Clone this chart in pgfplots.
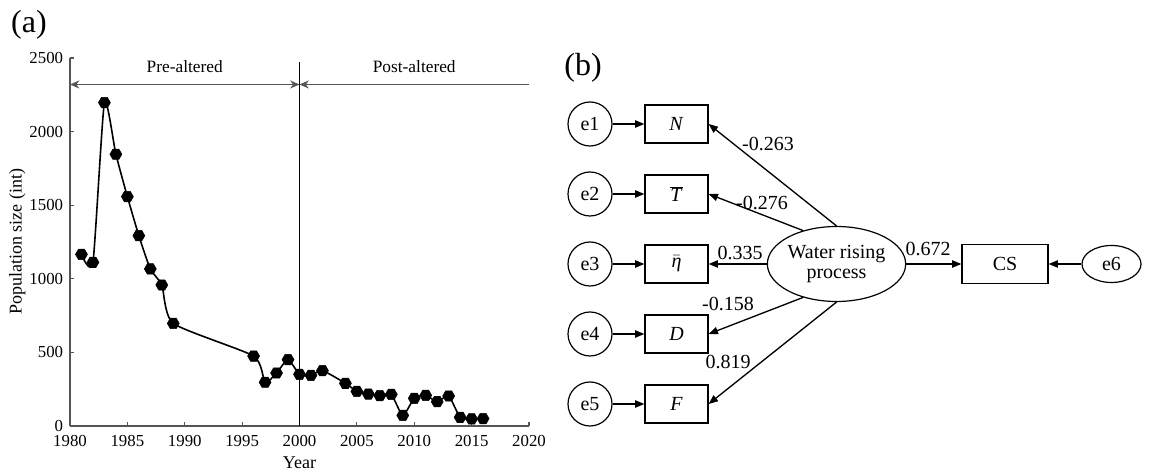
\documentclass[border=0pt]{standalone}
\usepackage{pgfplots}
\pgfplotsset{compat=1.18}
\usepackage{pgfplotstable}
\usepackage{fontspec}
\setmainfont{Liberation Serif}
\usetikzlibrary{arrows.meta,shapes.geometric}

% filled hexagon marker
\pgfdeclareplotmark{hexagon}{%
  \pgfpathmoveto{\pgfpointpolar{0}{\pgfplotmarksize}}%
  \pgfpathlineto{\pgfpointpolar{60}{\pgfplotmarksize}}%
  \pgfpathlineto{\pgfpointpolar{120}{\pgfplotmarksize}}%
  \pgfpathlineto{\pgfpointpolar{180}{\pgfplotmarksize}}%
  \pgfpathlineto{\pgfpointpolar{240}{\pgfplotmarksize}}%
  \pgfpathlineto{\pgfpointpolar{300}{\pgfplotmarksize}}%
  \pgfpathclose
  \pgfusepathqfillstroke}

\pgfplotstableread{
year pop
1981 1166
1982 1112
1983 2197
1984 1846
1985 1558
1986 1293
1987 1067
1988 958
1989 697
1996 475
1997 297
1998 360
1999 451
2000 351
2001 344
2002 376
2004 290
2005 235
2006 217
2007 206
2008 215
2009 72
2010 188
2011 208
2012 165
2013 204
2014 59
2015 48
2016 50
}\popdata

\definecolor{axgray}{HTML}{555555}

\begin{document}
\begin{tikzpicture}
\path (0pt,0pt) rectangle (864pt,352.5pt);

% ---------------- panel (a) ----------------
\node[font=\fontsize{24pt}{26pt}\selectfont] at (21.75pt,334pt) {(a)};

\begin{axis}[
  at={(52.5pt,33pt)}, anchor=south west,
  scale only axis, width=344.25pt, height=276pt,
  xmin=1980, xmax=2020, ymin=0, ymax=2500,
  xtick distance=5, ytick distance=500,
  axis lines=left, axis line style={-, axgray, line width=0.8pt},
  tick style={axgray, line width=0.8pt}, tick align=inside,
  major tick length=3pt,
  /pgf/number format/1000 sep={},
  /pgf/number format/assume math mode=true,
  tick label style={font=\fontsize{12.6pt}{14pt}\selectfont, inner sep=1pt},
  xticklabel style={yshift=-5.5pt},
  yticklabel style={xshift=-4pt},
  label style={font=\fontsize{13.5pt}{15pt}\selectfont},
  xlabel={Year}, ylabel={Population size (int)},
  xlabel style={at={(axis description cs:0.5,-0.10)}, anchor=center},
  ylabel style={at={(axis description cs:-0.115,0.5)}, anchor=center},
  clip=false,
]
\addplot[black, line width=1.2pt, smooth, tension=0.35,
  mark=hexagon, mark size=4.5pt, mark options={fill=black, line width=0.4pt}]
  table[x=year, y=pop] {\popdata};

\draw[black, line width=0.8pt] (axis cs:2000,0) -- (axis cs:2000,2475);
\draw[axgray, line width=1pt, {Stealth[length=7pt,width=6pt]}-{Stealth[length=7pt,width=6pt]}]
  (axis cs:1980,2320) -- (axis cs:2000,2320);
\draw[axgray, line width=1pt, {Stealth[length=7pt,width=6pt]}-]
  (axis cs:2000,2320) -- (axis cs:2020,2320);
\node[font=\fontsize{13pt}{15pt}\selectfont] at (axis cs:1990,2439) {Pre-altered};
\node[font=\fontsize{13pt}{15pt}\selectfont] at (axis cs:2010,2439) {Post-altered};
\end{axis}

% ---------------- panel (b) ----------------
\begin{scope}[x=0.75pt, y=0.75pt]
\node[font=\fontsize{24pt}{26pt}\selectfont] at (583,402) {(b)};
\end{scope}

\begin{scope}[x=0.75pt, y=0.75pt,
  font=\fontsize{15pt}{17pt}\selectfont, line width=1pt,
  every node/.append style={draw=black, line width=0.9pt, inner sep=0pt},
  err/.style={circle, minimum size=33pt},
  box/.style={rectangle, minimum width=47.25pt, minimum height=28.5pt},
  arr/.style={-{Triangle[length=7pt,width=5.5pt]}},
  lab/.style={draw=none, fill=none}]

\node[err] (e1) at (590,346) {e1};
\node[err] (e2) at (590,276) {e2};
\node[err] (e3) at (590,206) {e3};
\node[err] (e4) at (590,136) {e4};
\node[err] (e5) at (590,66)  {e5};

\node[box] (N) at (676.5,346) {\textit{N}};
\node[box] (T) at (676.5,276) {$\overline{\mbox{\textit{T}}}$};
\node[box] (H) at (676.5,206) {$\bar{\mbox{\textit{η}}}$};
\node[box] (D) at (676.5,136) {\textit{D}};
\node[box] (F) at (676.5,66)  {\textit{F}};

\node[ellipse, minimum width=101.25pt, minimum height=56.25pt, align=center]
  (W) at (836.5,206) {Water rising\\[-2pt]process};
\node[rectangle, minimum width=64.5pt, minimum height=29.25pt] (CS) at (1005,206) {CS};
\node[ellipse, minimum width=44.25pt, minimum height=27.75pt] (e6) at (1111.5,206) {e6};

\draw[arr] (e1) -- (N);
\draw[arr] (e2) -- (T);
\draw[arr] (e3) -- (H);
\draw[arr] (e4) -- (D);
\draw[arr] (e5) -- (F);

\draw[arr] (W.north) -- (N.east);
\draw[arr] (W.135) -- (T.east);
\draw[arr] (W.west) -- (H.east);
\draw[arr] (W.225) -- (D.east);
\draw[arr] (W.south) -- (F.east);
\draw[arr] (W.east) -- (CS.west);
\draw[arr] (e6.west) -- (CS.east);

\node[lab] at (768,326) {-0.263};
\node[lab] at (762,267) {-0.276};
\node[lab] at (740,217) {0.335};
\node[lab] at (728,166) {-0.158};
\node[lab] at (728,108) {0.819};
\node[lab] at (928,221) {0.672};
\end{scope}
\end{tikzpicture}
\end{document}
